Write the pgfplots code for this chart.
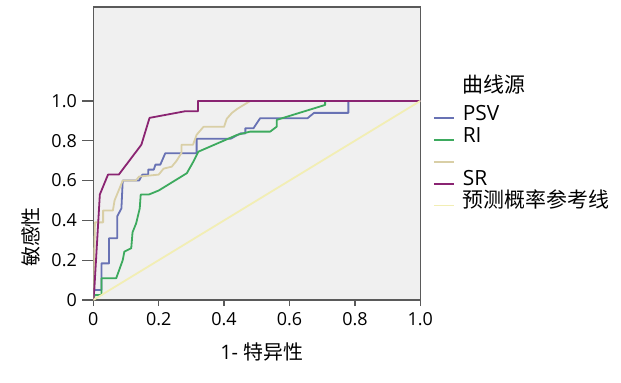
\documentclass[border=0pt]{standalone}
\usepackage{fontspec}
\setmainfont{Open Sans}
\newfontfamily\cjk{Noto Sans CJK SC}
\usepackage{pgfplots}
\pgfplotsset{compat=1.18}
\definecolor{psv}{HTML}{6872B4}
\definecolor{ri}{HTML}{3DAA5E}
\definecolor{tan}{HTML}{D9CFA6}
\definecolor{sr}{HTML}{8A2472}
\definecolor{refl}{HTML}{F2EEB4}
\definecolor{bg}{HTML}{F0F0F0}
\definecolor{frame}{HTML}{5A5A5A}
\begin{document}
\begin{tikzpicture}
\path[use as bounding box] (-93.3bp,-83bp) rectangle (527.7bp,300bp);
\begin{axis}[
  at={(0,0)}, anchor=south west, scale only axis,
  width=327bp, height=293bp,
  xmin=0, xmax=1, ymin=0, ymax=1.472,
  axis background/.style={fill=bg},
  axis line style={draw=frame, line width=1.3bp},
  xtick={0,0.2,0.4,0.6,0.8,1}, xticklabels={0,0.2,0.4,0.6,0.8,1.0},
  ytick=\empty,
  extra y ticks={0,0.2,0.4,0.6,0.8,1}, extra y tick labels={0,0.2,0.4,0.6,0.8,1.0},
  extra y tick style={major tick length=11bp, tick style={draw=frame, line width=1.3bp}},
  tick align=outside, tick pos=left, major tick length=6bp,
  tick style={draw=frame, line width=1.3bp},
  /pgf/number format/assume math mode=true,
  ticklabel style={font=\fontsize{18}{20}\selectfont, text=black},
  xticklabel style={yshift=-3bp},
  yticklabel style={xshift=-2bp},
  xlabel={1- {\cjk 特异性}}, ylabel={\cjk 敏感性},
  label style={font=\fontsize{20}{22}\selectfont},
  xlabel style={at={(axis description cs:0.515,-0.1775)}, anchor=center},
  ylabel style={at={(axis description cs:-0.19,0.215)}, anchor=center},
  legend cell align=left,
  legend image code/.code={\draw[#1] (0bp,0bp) -- (20bp,0bp);},
  legend style={draw=none, fill=none, at={(axis description cs:1.0388,0.657)}, anchor=north west,
    inner sep=0pt, outer sep=0pt, row sep=0pt, column sep=8bp,
    font=\fontsize{21}{23}\selectfont,
    nodes={inner sep=0pt, text height=13bp, text depth=8.8bp}},
  every axis plot/.append style={line width=1.8bp, line join=round},
]
\addplot[psv] coordinates {(0,0) (0,0.05) (0.025,0.05) (0.025,0.184) (0.048,0.184) (0.048,0.31) (0.073,0.31) (0.073,0.42) (0.086,0.46) (0.09,0.6) (0.14,0.6) (0.15,0.63) (0.168,0.63) (0.168,0.655) (0.185,0.655) (0.19,0.68) (0.205,0.68) (0.22,0.737) (0.316,0.737) (0.316,0.81) (0.42,0.81) (0.45,0.837) (0.465,0.837) (0.465,0.863) (0.49,0.863) (0.51,0.913) (0.655,0.913) (0.675,0.94) (0.78,0.94) (0.78,1) (1,1)};
\addlegendentry{PSV}
\addplot[ri] coordinates {(0,0) (0.004,0.025) (0.025,0.025) (0.025,0.109) (0.07,0.109) (0.09,0.2) (0.095,0.243) (0.116,0.26) (0.12,0.34) (0.131,0.385) (0.142,0.46) (0.145,0.53) (0.17,0.53) (0.2,0.55) (0.286,0.637) (0.306,0.695) (0.321,0.745) (0.439,0.829) (0.48,0.846) (0.541,0.846) (0.561,0.871) (0.561,0.905) (0.709,0.98) (0.709,1) (1,1)};
\addlegendentry{RI}
\addplot[tan] coordinates {(0,0) (0.005,0.39) (0.03,0.39) (0.03,0.45) (0.06,0.45) (0.065,0.5) (0.09,0.6) (0.13,0.6) (0.14,0.62) (0.2,0.63) (0.215,0.66) (0.24,0.67) (0.255,0.70) (0.27,0.74) (0.27,0.78) (0.305,0.78) (0.316,0.83) (0.337,0.87) (0.4,0.87) (0.408,0.91) (0.424,0.94) (0.44,0.96) (0.47,0.99) (0.48,1) (1,1)};
\addlegendentry{}
\addplot[sr] coordinates {(0,0) (0.003,0.05) (0.02,0.53) (0.045,0.63) (0.078,0.63) (0.147,0.78) (0.172,0.915) (0.28,0.948) (0.32,0.948) (0.32,1) (1,1)};
\addlegendentry{SR}
\addplot[refl] coordinates {(0,0) (1,1)};
\addlegendentry{{\cjk 预测概率参考线}}
\end{axis}
\node[anchor=west, font=\fontsize{21}{23}\selectfont\cjk, inner sep=0pt] at (368.7bp,215bp) {曲线源};
\end{tikzpicture}
\end{document}
